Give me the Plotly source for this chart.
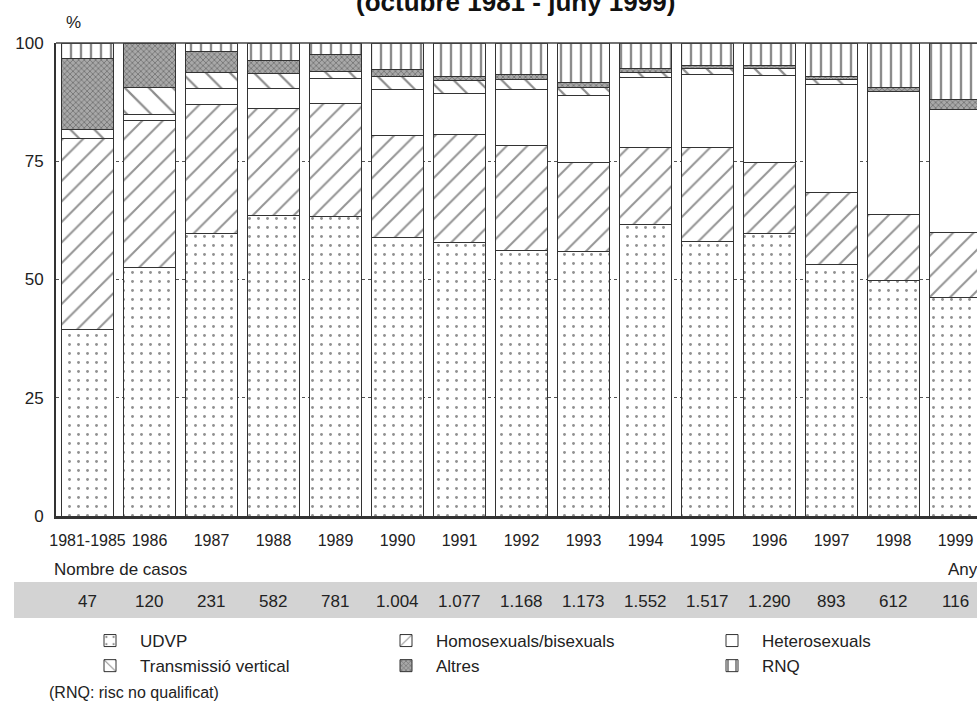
import plotly.graph_objects as go

# ---------------- data ----------------
categories = ["1981-1985", "1986", "1987", "1988", "1989", "1990", "1991", "1992",
              "1993", "1994", "1995", "1996", "1997", "1998", "1999"]
udvp   = [39.5, 52.6, 59.8, 63.6, 63.3, 58.9, 57.9, 56.1, 55.9, 61.7, 58.0, 59.8, 53.1, 49.7, 46.3]
homo   = [40.3, 31.1, 27.3, 22.6, 24.0, 21.5, 22.7, 22.2, 18.9, 16.2, 20.0, 14.9, 15.3, 14.0, 13.7]
hetero = [0.0, 1.2, 3.3, 4.2, 5.2, 9.8, 8.8, 11.9, 14.2, 14.8, 15.4, 18.5, 22.9, 26.0, 26.0]
tv     = [2.0, 5.6, 3.3, 3.2, 1.4, 2.7, 2.6, 2.0, 1.5, 1.1, 1.2, 1.4, 1.0, 0.0, 0.0]
altres = [15.0, 9.5, 4.6, 2.7, 3.6, 1.6, 1.0, 1.1, 1.1, 0.8, 0.6, 0.6, 0.7, 0.9, 2.1]
rnq    = [3.2, 0.0, 1.7, 3.7, 2.5, 5.5, 7.0, 6.7, 8.4, 5.4, 4.8, 4.8, 7.0, 9.4, 11.9]
cases  = [47, 120, 231, 582, 781, 1004, 1077, 1168, 1173, 1552, 1517, 1290, 893, 612, 116]
y_ticks = [0, 25, 50, 75, 100]

series_names = ["UDVP", "Homosexuals/bisexuals", "Heterosexuals",
                "Transmissió vertical", "Altres", "RNQ"]
series_values = [udvp, homo, hetero, tv, altres, rnq]

# ---------------- styles ----------------
FONT = "Liberation Sans, Arial, Helvetica, sans-serif"
TXT = "#222222"
patterns = [
    dict(shape=".", size=9, solidity=0.08, fgcolor="#222222", bgcolor="white"),
    dict(shape="/", size=14.5, solidity=0.14, fgcolor="#2a2a2a", bgcolor="white"),
    dict(shape="", bgcolor="white"),
    dict(shape="\\", size=17, solidity=0.13, fgcolor="#1a1a1a", bgcolor="white"),
    dict(shape="x", size=4, solidity=0.35, fgcolor="#333333", bgcolor="#a8a8a8"),
    dict(shape="|", size=10, solidity=0.24, fgcolor="#1a1a1a", bgcolor="white"),
]
legend_of = ["legend", "legend2", "legend3", "legend", "legend2", "legend3"]

fig = go.Figure()
for name, vals, pat, lg in zip(series_names, series_values, patterns, legend_of):
    fig.add_trace(go.Bar(
        x=categories, y=vals, name=name, legend=lg, legendgroup=name,
        marker=dict(color="white", pattern=pat,
                    line=dict(color="#333333", width=1)),
        hoverinfo="skip",
    ))

# thousands separator as in the source (Catalan style)
def fmt(n):
    return f"{n:,}".replace(",", ".")

annotations = []
for i, n in enumerate(cases):
    annotations.append(dict(x=i, xref="x", y=(516 - 601) / 473, yref="paper",
                            text=fmt(n), showarrow=False, yanchor="middle",
                            xanchor="center",
                            font=dict(size=17, color=TXT, family=FONT)))

annotations += [
    dict(x=(515 - 56) / 921, y=(516 - 2) / 473, xref="paper", yref="paper",
         text="<b>(octubre 1981 - juny 1999)</b>", showarrow=False,
         xanchor="center", yanchor="middle",
         font=dict(size=26, color="#111111", family=FONT)),
    dict(x=(73 - 56) / 921, y=(516 - 23) / 473, xref="paper", yref="paper",
         text="%", showarrow=False, xanchor="center", yanchor="middle",
         font=dict(size=17, color=TXT, family=FONT)),
    dict(x=(52 - 56) / 921, y=(516 - 569) / 473, xref="paper", yref="paper",
         text="Nombre de casos", showarrow=False, xanchor="left", yanchor="middle",
         font=dict(size=17, color=TXT, family=FONT)),
    dict(x=(946 - 56) / 921, y=(516 - 569) / 473, xref="paper", yref="paper",
         text="Any", showarrow=False, xanchor="left", yanchor="middle",
         font=dict(size=17, color=TXT, family=FONT)),
    dict(x=(47 - 56) / 921, y=(516 - 692) / 473, xref="paper", yref="paper",
         text="(RNQ: risc no qualificat)", showarrow=False, xanchor="left",
         yanchor="middle", font=dict(size=16, color=TXT, family=FONT)),
]

shapes = [
    # grey band behind the number of cases
    dict(type="rect", xref="paper", yref="paper",
         x0=(14 - 56) / 921, x1=1.01, y0=(516 - 618) / 473, y1=(516 - 582) / 473,
         fillcolor="#d3d3d3", line=dict(width=0), layer="below"),
    # top frame line
    dict(type="line", xref="paper", yref="y domain", x0=0, x1=1.01, y0=1, y1=1,
         line=dict(color="#444444", width=1.5)),
]

legend_common = dict(yanchor="top", xanchor="left", y=(516 - 623) / 473,
                     bgcolor="rgba(0,0,0,0)", traceorder="normal",
                     tracegroupgap=3, itemwidth=50,
                     font=dict(size=17, color=TXT, family=FONT),
                     itemclick=False, itemdoubleclick=False)

fig.update_layout(
    width=977, height=703,
    margin=dict(l=56, r=0, t=43, b=187, pad=0, autoexpand=False),
    barmode="stack", bargap=0.16,
    paper_bgcolor="white", plot_bgcolor="white",
    font=dict(family=FONT, size=17, color=TXT),
    xaxis=dict(type="category", range=[-0.508, 14.347],
               tickvals=categories, ticktext=categories, tickangle=0,
               showline=True, linewidth=2.5, linecolor="#333333",
               showgrid=False, ticks="", ticklabelstandoff=8, automargin=False,
               tickfont=dict(size=16, color=TXT, family=FONT), fixedrange=True),
    yaxis=dict(range=[0, 100], tickvals=y_ticks,
               showline=True, linewidth=2, linecolor="#333333",
               showgrid=True, gridcolor="#555555", gridwidth=1, griddash="3px,3px",
               zeroline=False, ticks="", ticklabelstandoff=7, automargin=False,
               tickfont=dict(size=17, color=TXT, family=FONT), fixedrange=True),
    legend=dict(x=(80 - 56) / 921, **legend_common),
    legend2=dict(x=(376 - 56) / 921, **legend_common),
    legend3=dict(x=(702 - 56) / 921, **legend_common),
    annotations=annotations,
    shapes=shapes,
    showlegend=True,
)

fig.write_html("out.html", config={"displayModeBar": False},
               post_script="document.body.style.margin='0';")
